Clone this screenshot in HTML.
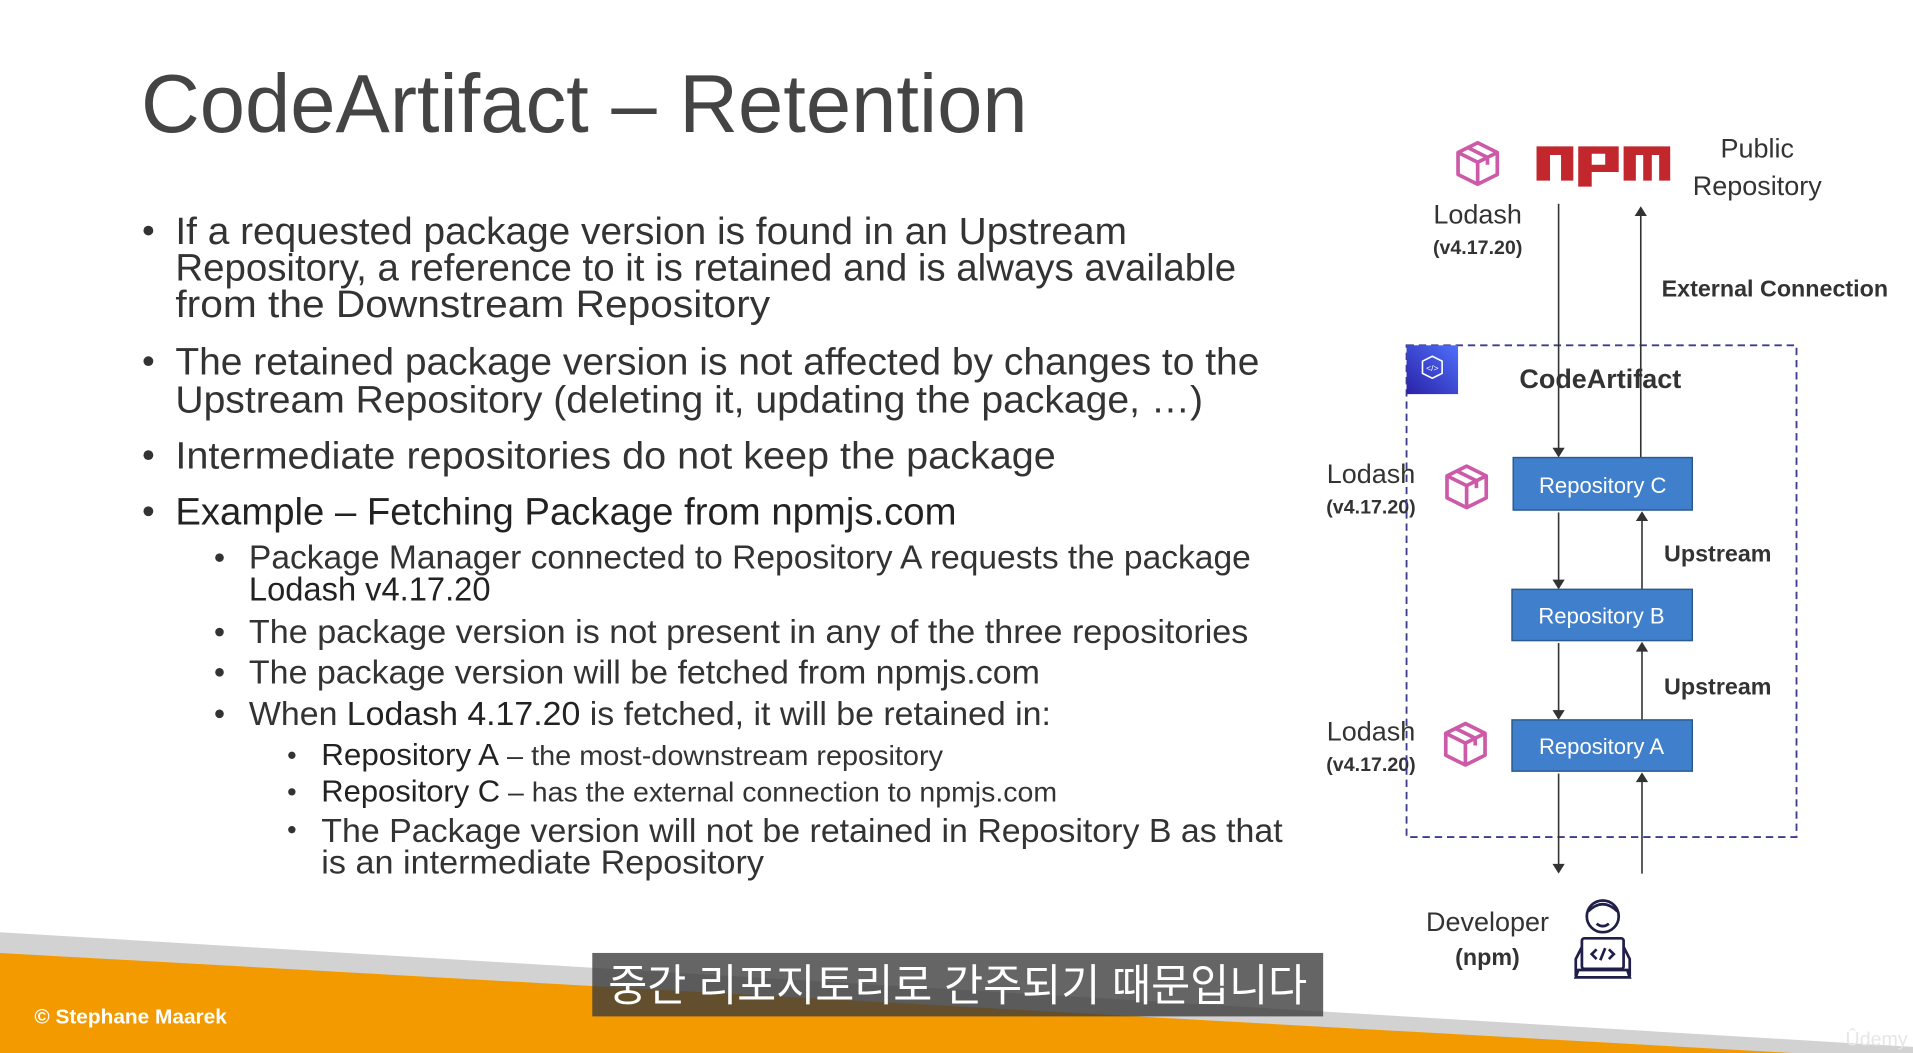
<!DOCTYPE html>
<html><head><meta charset="utf-8"><style>
html,body{margin:0;padding:0;background:#fff;overflow:hidden}
svg{display:block}
</style></head><body>
<svg width="1913" height="1053" viewBox="0 0 1560 863" preserveAspectRatio="none" xmlns="http://www.w3.org/2000/svg" font-family="Liberation Sans, sans-serif">
<defs>
<g id="cube" fill="none" stroke="#cc5aa8" stroke-width="3" stroke-linejoin="round">
<path d="M0,-17 L16,-9 L16,9 L0,17 L-16,9 L-16,-9 Z"/>
<path d="M-16,-9 L0,-1 L16,-9 M0,-1 L0,17"/>
<path d="M-8,-13 L8,-5 L8,1"/>
</g>
<linearGradient id="ca" x1="0" y1="1" x2="1" y2="0"><stop offset="0" stop-color="#2a22a8"/><stop offset="1" stop-color="#4f6ffa"/></linearGradient>
</defs>
<rect width="1560" height="863" fill="#fff"/>
<text x="115" y="108" font-size="68" fill="#444" textLength="723" lengthAdjust="spacingAndGlyphs">CodeArtifact – Retention</text>
<g fill="#333">
<g font-size="31">
<circle cx="121" cy="189" r="4"/><circle cx="121" cy="296" r="4"/><circle cx="121" cy="373" r="4"/><circle cx="121" cy="419" r="4"/>
<text x="143" y="200" textLength="776" lengthAdjust="spacingAndGlyphs">If a requested package version is found in an Upstream</text>
<text x="143" y="230" textLength="865" lengthAdjust="spacingAndGlyphs">Repository, a reference to it is retained and is always available</text>
<text x="143" y="260" textLength="485" lengthAdjust="spacingAndGlyphs">from the Downstream Repository</text>
<text x="143" y="307" textLength="884" lengthAdjust="spacingAndGlyphs">The retained package version is not affected by changes to the</text>
<text x="143" y="338" textLength="838" lengthAdjust="spacingAndGlyphs">Upstream Repository (deleting it, updating the package, …)</text>
<text x="143" y="384" textLength="718" lengthAdjust="spacingAndGlyphs">Intermediate repositories do not keep the package</text>
<text x="143" y="430" textLength="637" lengthAdjust="spacingAndGlyphs" fill="#222">Example – Fetching Package from npmjs.com</text>
</g>
<g font-size="27">
<circle cx="179" cy="457" r="3.5"/><circle cx="179" cy="518" r="3.5"/><circle cx="179" cy="551" r="3.5"/><circle cx="179" cy="585" r="3.5"/>
<text x="203" y="466" textLength="817" lengthAdjust="spacingAndGlyphs">Package Manager connected to Repository A requests the package</text>
<text x="203" y="492" textLength="197" lengthAdjust="spacingAndGlyphs" fill="#222">Lodash v4.17.20</text>
<text x="203" y="527" textLength="815" lengthAdjust="spacingAndGlyphs">The package version is not present in any of the three repositories</text>
<text x="203" y="560" textLength="645" lengthAdjust="spacingAndGlyphs">The package version will be fetched from npmjs.com</text>
<text x="203" y="594" textLength="654" lengthAdjust="spacingAndGlyphs">When <tspan fill="#222">Lodash 4.17.20</tspan> is fetched, it will be retained in:</text>
</g>
<circle cx="238" cy="619" r="3"/><circle cx="238" cy="649" r="3"/><circle cx="238" cy="680" r="3"/>
<text x="262" y="627" font-size="23" textLength="507" lengthAdjust="spacingAndGlyphs"><tspan fill="#222" font-size="25">Repository A</tspan> – the most-downstream repository</text>
<text x="262" y="657" font-size="23" textLength="600" lengthAdjust="spacingAndGlyphs"><tspan fill="#222" font-size="25">Repository C</tspan> – has the external connection to npmjs.com</text>
<text x="262" y="690" font-size="27" textLength="784" lengthAdjust="spacingAndGlyphs">The Package version will not be retained in Repository B as that</text>
<text x="262" y="716" font-size="27" textLength="361" lengthAdjust="spacingAndGlyphs">is an intermediate Repository</text>
</g>
<use href="#cube" x="1205" y="134"/>
<!-- npm logo -->
<g fill="#c1272d">
<path d="M1253,120 H1283 V148 H1273 V127 H1264 V148 H1253 Z"/>
<path d="M1287,120 H1320 V141 H1298 V153 H1287 Z M1298,126 V135 H1309 V126 Z" fill-rule="evenodd"/>
<path d="M1324,120 H1362 V148 H1353 V127 H1347 V148 H1340 V127 H1334 V148 H1324 Z"/>
</g>
<g fill="#333" text-anchor="middle">
<text x="1433" y="129" font-size="22">Public</text>
<text x="1433" y="160" font-size="22">Repository</text>
<text x="1205" y="183" font-size="22">Lodash</text>
<text x="1205" y="208" font-size="16" font-weight="bold">(v4.17.20)</text>
<text x="1118" y="396" font-size="22">Lodash</text>
<text x="1118" y="421" font-size="16" font-weight="bold">(v4.17.20)</text>
<text x="1118" y="607" font-size="22">Lodash</text>
<text x="1118" y="632" font-size="16" font-weight="bold">(v4.17.20)</text>
<text x="1213" y="763" font-size="22">Developer</text>
<text x="1213" y="791" font-size="19" font-weight="bold">(npm)</text>
<text x="1305" y="318" font-size="22" font-weight="bold">CodeArtifact</text>
</g>
<g fill="#333" font-size="19" font-weight="bold">
<text x="1355" y="243">External Connection</text>
<text x="1357" y="460">Upstream</text>
<text x="1357" y="569">Upstream</text>
</g>
<use href="#cube" x="1196" y="399"/>
<use href="#cube" x="1195" y="610"/>
<rect x="1147" y="283" width="318" height="403" fill="none" stroke="#3d3d8c" stroke-width="1.5" stroke-dasharray="6,4"/>
<rect x="1147" y="283" width="42" height="40" fill="url(#ca)"/>
<path d="M1160,296 L1168,292 L1176,296 L1176,306 L1168,310 L1160,306 Z" fill="none" stroke="#fff" stroke-width="1.3"/>
<text x="1168" y="304" font-size="7" fill="#fff" text-anchor="middle">&lt;/&gt;</text>
<g stroke="#333" stroke-width="1.3">
<line x1="1271" y1="167" x2="1271" y2="368"/>
<line x1="1338" y1="375" x2="1338" y2="176"/>
<line x1="1271" y1="420" x2="1271" y2="476"/>
<line x1="1339" y1="483" x2="1339" y2="426"/>
<line x1="1271" y1="527" x2="1271" y2="583"/>
<line x1="1339" y1="590" x2="1339" y2="533"/>
<line x1="1271" y1="634" x2="1271" y2="709"/>
<line x1="1339" y1="716" x2="1339" y2="640"/>
</g>
<g fill="#333">
<path d="M1266,367 L1276,367 L1271,375 Z"/>
<path d="M1333,177 L1343,177 L1338,169 Z"/>
<path d="M1266,475 L1276,475 L1271,483 Z"/>
<path d="M1334,427 L1344,427 L1339,419 Z"/>
<path d="M1266,582 L1276,582 L1271,590 Z"/>
<path d="M1334,534 L1344,534 L1339,526 Z"/>
<path d="M1266,708 L1276,708 L1271,716 Z"/>
<path d="M1334,641 L1344,641 L1339,633 Z"/>
</g>
<g fill="#3f7fcb" stroke="#2a5a8f" stroke-width="1.2">
<rect x="1234" y="375" width="146" height="43"/>
<rect x="1233" y="483" width="147" height="42"/>
<rect x="1233" y="590" width="147" height="42"/>
</g>
<g fill="#fff" font-size="18" text-anchor="middle">
<text x="1307" y="404">Repository C</text>
<text x="1306" y="511">Repository B</text>
<text x="1306" y="618">Repository A</text>
</g>
<g fill="none" stroke="#1f1f4a" stroke-width="2.2">
<circle cx="1307" cy="751" r="13"/>
<path d="M1295,747 Q1307,735 1319,747"/>
<path d="M1302,757 Q1307,761 1312,757"/>
<rect x="1290" y="769" width="34" height="25" rx="2"/>
<path d="M1285,801 L1329,801 L1327,795 L1287,795 Z"/>
<path d="M1290,776 L1285,786 L1285,800 M1324,776 L1329,786 L1329,800"/>
<path d="M1302,778 L1298,782 L1302,786 M1312,778 L1316,782 L1312,786 M1309,777 L1305,787"/>
</g>
<polygon points="0,764 1560,858 1560,863 0,863" fill="#d2d2d2"/>
<polygon points="0,781 1462,863 0,863" fill="#f39a00"/>
<text x="28" y="839" font-size="17" font-weight="bold" fill="#fff">© Stephane Maarek</text>
<text x="1505" y="857" font-size="16" fill="#e6e6e6">Ûdemy</text>
<rect x="483" y="781" width="596" height="52" fill="#3a3a3a" fill-opacity="0.78"/>
<text x="781" y="820" font-size="36" fill="#fff" text-anchor="middle" font-family="Liberation Sans, Noto Sans CJK KR, sans-serif" textLength="570" lengthAdjust="spacingAndGlyphs">중간 리포지토리로 간주되기 때문입니다</text>
</svg>
</body></html>
